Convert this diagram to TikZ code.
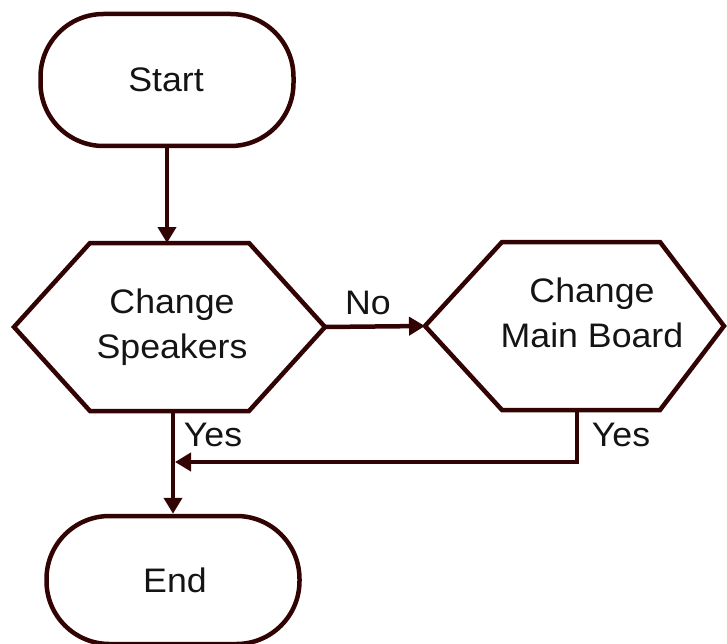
\documentclass[tikz,border=0pt]{standalone}
\usepackage{fontspec}
\setmainfont{Liberation Sans}[FakeStretch=1.05]
\usetikzlibrary{arrows.meta}
\definecolor{ln}{RGB}{50,3,3}
\definecolor{tx}{RGB}{20,20,20}
\begin{document}
\begin{tikzpicture}[x=1pt,y=-1pt,
  line/.style={draw=ln,line width=4.5pt,line join=miter},
  lbl/.style={text=tx,font=\fontsize{34}{45}\selectfont,align=center,inner sep=0pt},
  term/.style={draw=ln,line width=4.5pt,rounded corners=63pt,minimum width=253pt,inner sep=0pt},
  arr/.style={line,-{Triangle[length=16pt,width=18pt]}}]
\useasboundingbox (0,0) rectangle (727,644);
% Start terminal
\node[term,minimum height=132pt] (st) at (167,80) {};
\node[lbl] (stt) at (166,80) {Start};
% Hexagon 1
\coordinate (h1W) at (14,327);
\coordinate (h1NW) at (90,243);
\coordinate (h1NE) at (249,243);
\coordinate (h1E) at (325,327);
\coordinate (h1SE) at (249,411);
\coordinate (h1SW) at (90,411);
\draw[line] (h1W) -- (h1NW) -- (h1NE) -- (h1E) -- (h1SE) -- (h1SW) -- cycle;
\node[lbl] (h1) at (172,327) {Change\\Speakers};
% Hexagon 2
\coordinate (h2W) at (425,326);
\coordinate (h2NW) at (502,242);
\coordinate (h2NE) at (660,242);
\coordinate (h2E) at (724,326);
\coordinate (h2SE) at (660,410);
\coordinate (h2SW) at (502,410);
\draw[line] (h2W) -- (h2NW) -- (h2NE) -- (h2E) -- (h2SE) -- (h2SW) -- cycle;
\node[lbl] (h2) at (592,313) {Change\\Main Board};
% End terminal
\node[term,minimum height=128pt] (en) at (173,580) {};
\node[lbl] (ent) at (175,580) {End};
% connectors
\draw[arr] (st.south) -- (st.south |- h1NE);
\draw[arr] (h1E) -- (h2W);
\coordinate (y1) at (h1SW -| en.north);
\draw[arr] (y1) -- (en.north);
\coordinate (y2) at (577,410);
\coordinate (j) at (175,462);
\draw[arr] (y2) |- (j);
% labels
\node[lbl] (no) at (368,303) {No};
\node[lbl] (yes1) at (213,435) {Yes};
\node[lbl] (yes2) at (621,435) {Yes};
\end{tikzpicture}
\end{document}
